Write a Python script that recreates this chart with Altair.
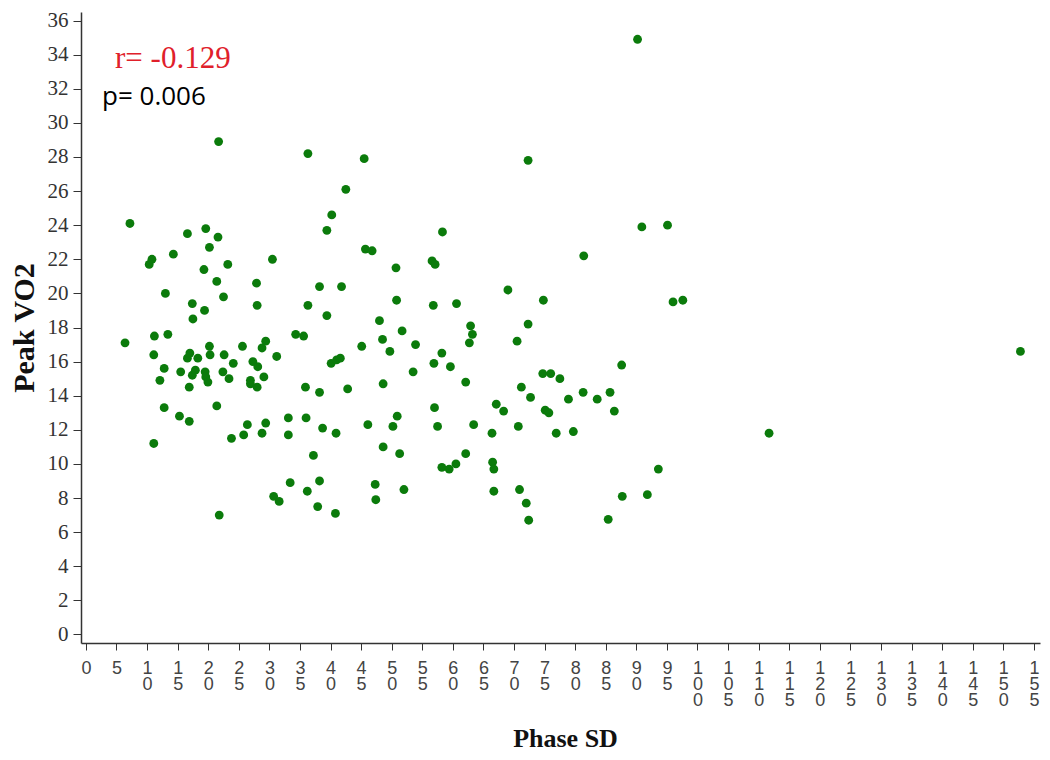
import altair as alt
import pandas as pd

phase_sd = [
    7.2, 10.35, 10.8, 14.3, 16.6, 19.6, 21.6, 20.2, 21.7, 19.3, 23.2, 30.5, 21.4, 27.9,
    13.0, 22.5, 17.4, 19.4, 28.0, 36.3, 42.5, 40.2, 39.4, 38.2, 41.8, 36.3, 39.4, 17.5,
    6.4, 11.2, 13.4, 11.1, 12.8, 12.1, 12.8, 15.3, 16.9, 11.1, 15.5, 16.9, 16.6, 17.0,
    18.3, 17.4, 17.9, 19.5, 19.6, 19.95, 20.2, 20.3, 21.4, 21.8, 22.6, 22.4, 24.1, 23.4,
    23.8, 25.6, 25.8, 26.4, 27.3, 26.9, 26.9, 28.1, 28.0, 28.8, 29.4, 29.1, 28.8, 29.4,
    31.2, 30.7, 31.6, 33.1, 33.1, 33.4, 34.3, 35.6, 35.9, 36.0, 36.2, 38.2, 37.2, 38.2,
    37.9, 38.7, 40.9, 40.8, 40.1, 41.0, 41.6, 42.8,
    45.7, 46.8, 50.7, 50.8, 48.0, 48.5, 49.7, 51.7, 45.1, 48.6, 46.1, 50.9, 50.2, 48.6,
    51.3, 47.3, 47.4,
    45.5, 72.3, 58.3, 56.6, 57.1, 81.4, 56.8, 60.6, 69.0, 74.8, 62.9, 63.2, 62.7, 72.3,
    70.5, 53.9, 58.2, 56.9, 59.6, 53.5, 62.1, 74.7, 76.0, 77.5, 71.2, 72.7, 81.3, 78.9,
    83.6, 57.0, 67.1, 68.3, 75.1, 75.7, 57.5, 63.4, 66.4, 70.7, 76.9, 79.7, 58.2, 59.4,
    60.5, 62.1, 66.5, 66.7, 52.0, 66.7, 70.9, 72.0, 72.4,
    90.2, 90.9, 95.1, 96.0, 97.6, 87.6, 85.7, 86.4, 93.6, 87.7, 91.8, 85.4, 152.8, 111.7,
]

peak_vo2 = [
    24.1, 21.7, 22.0, 22.3, 23.5, 23.8, 23.3, 22.7, 28.9, 21.4, 21.7, 22.0, 20.7, 20.6,
    20.0, 19.8, 19.4, 19.0, 19.3, 28.2, 26.1, 24.6, 23.7, 20.4, 20.4, 19.3, 18.7, 18.5,
    17.1, 17.5, 17.6, 16.4, 15.6, 14.9, 13.3, 12.8, 12.5, 11.2, 15.4, 14.5, 16.2, 16.5,
    16.2, 15.2, 15.5, 15.4, 15.1, 14.8, 16.9, 16.4, 13.4, 7.0, 16.4, 15.4, 15.9, 15.0,
    11.5, 16.9, 11.7, 12.3, 16.0, 14.9, 14.7, 15.7, 14.5, 16.8, 17.2, 15.1, 11.8, 12.4,
    16.3, 8.1, 7.8, 12.7, 11.7, 8.9, 17.6, 17.5, 14.5, 12.7, 8.4, 14.2, 10.5, 9.0,
    7.5, 12.1, 11.8, 7.1, 15.9, 16.1, 16.2, 14.4,
    22.6, 22.5, 21.5, 19.6, 18.4, 17.3, 16.6, 17.8, 16.9, 14.7, 12.3, 12.8, 12.2, 11.0,
    10.6, 8.8, 7.9,
    27.9, 27.8, 23.6, 21.9, 21.7, 22.2, 19.3, 19.4, 20.2, 19.6, 18.1, 17.6, 17.1, 18.2,
    17.2, 17.0, 16.5, 15.9, 15.7, 15.4, 14.8, 15.3, 15.3, 15.0, 14.5, 13.9, 14.2, 13.8,
    13.8, 13.3, 13.5, 13.1, 13.15, 13.0, 12.2, 12.3, 11.8, 12.2, 11.8, 11.9, 9.8, 9.7,
    10.0, 10.6, 10.1, 9.7, 8.5, 8.4, 8.5, 7.7, 6.7,
    34.9, 23.9, 24.0, 19.5, 19.6, 15.8, 14.2, 13.1, 9.7, 8.1, 8.2, 6.75, 16.6, 11.8,
]

x_ticks = list(range(0, 160, 5))
y_ticks = list(range(0, 38, 2))
r_label = ["r= -0.129"]
p_label = ["p= 0.006"]

df = pd.DataFrame({"Phase SD": phase_sd, "Peak VO2": peak_vo2})

points = alt.Chart(df).mark_circle(size=78, color="#0b7b0b", opacity=1).encode(
    x=alt.X(
        "Phase SD:Q",
        scale=alt.Scale(domain=[-0.8, 156], nice=False, zero=False),
        axis=alt.Axis(
            values=x_ticks,
            title="Phase SD",
            grid=False,
            labelExpr="split(datum.label, '')",
            labelFont="Liberation Sans",
            labelFontSize=18,
            labelLineHeight=16,
            labelColor="#444",
            labelPadding=9,
            labelFlush=False,
            labelOverlap=False,
            tickSize=7,
            tickColor="#333",
            domainColor="#333",
            domainWidth=1.5,
            titleFont="Liberation Serif",
            titleFontSize=26,
            titleFontWeight="bold",
            titleColor="#111",
            titleBaseline="alphabetic",
            titleX=484,
            titleY=103,
        ),
    ),
    y=alt.Y(
        "Peak VO2:Q",
        scale=alt.Scale(domain=[-0.5, 36.5], nice=False, zero=False),
        axis=alt.Axis(
            values=y_ticks,
            title="Peak VO2",
            grid=False,
            labelFont="Liberation Serif",
            labelFontSize=21,
            labelColor="#333",
            labelPadding=5,
            labelOverlap=False,
            tickSize=8,
            tickColor="#333",
            domainColor="#333",
            domainWidth=1.5,
            titleFont="Liberation Serif",
            titleFontSize=30,
            titleFontWeight="bold",
            titleColor="#111",
            titleBaseline="alphabetic",
            titleX=-48,
        ),
    ),
)

r_text = alt.Chart(pd.DataFrame({"t": r_label})).mark_text(
    font="Liberation Serif", fontSize=31, color="#e0202a", align="left", baseline="alphabetic"
).encode(text="t:N", x=alt.value(34), y=alt.value(56))

p_text = alt.Chart(pd.DataFrame({"t": p_label})).mark_text(
    font="Open Sans", fontSize=26, color="#000000", align="left", baseline="alphabetic"
).encode(text="t:N", x=alt.value(21), y=alt.value(93))

chart = alt.layer(points, r_text, p_text).properties(
    width=959,
    height=631,
    autosize=alt.AutoSizeParams(type="none"),
    padding={"left": 73, "top": 4, "right": 2, "bottom": 108},
).configure(background="white").configure_view(strokeWidth=0, stroke="transparent")

chart.save("out.html", embed_options={"renderer": "svg", "actions": False})
